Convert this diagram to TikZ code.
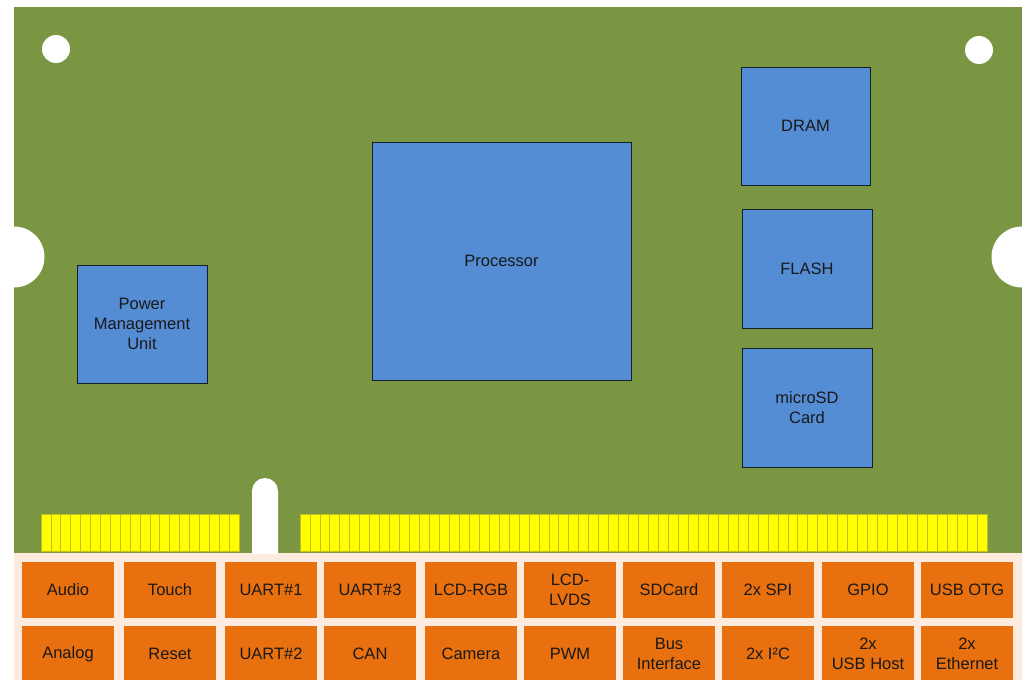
\documentclass[tikz,border=0pt]{standalone}
\usepackage{fontspec}
\setmainfont{Liberation Sans}
\definecolor{board}{RGB}{122,150,66}
\definecolor{chip}{RGB}{85,141,213}
\definecolor{chipline}{RGB}{20,30,40}
\definecolor{peach}{RGB}{253,235,224}
\definecolor{iface}{RGB}{232,112,14}
\definecolor{pin}{RGB}{255,255,0}
\definecolor{pinline}{RGB}{190,190,30}
\tikzset{
  chipbox/.style={draw=chipline, fill=chip, line width=1pt, inner sep=0pt, outer sep=0pt,
    align=center, font=\fontsize{16.5}{20}\selectfont, text=black!90},
  ifbox/.style={fill=iface, inner sep=0pt, outer sep=0pt, minimum width=92pt,
    align=center, font=\fontsize{16.5}{20}\selectfont, text=black!90},
  pinrect/.style={fill=pin, draw=pinline, line width=0.8pt},
  hole/.style={fill=white, draw=none}
}
\begin{document}
\begin{tikzpicture}[x=1pt,y=-1pt]
\useasboundingbox (0,0) rectangle (1026,680);
\fill[white] (0,0) rectangle (1026,680);
% board
\fill[board] (14,7) rectangle (1022,554);
% lower strip
\fill[peach] (14,553) rectangle (1022,680);
% mounting holes
\fill[hole] (56,49) circle (14);
\fill[hole] (979,50) circle (14);
% edge notches
\fill[hole] (14,257) circle (30.5);
\fill[hole] (1022,257) circle (30.5);
% key slot
\fill[hole] (252,554) -- (252,491) arc[start angle=180, end angle=360, radius=13] -- (278,554) -- cycle;
% connector pins
\foreach \i in {0,...,19} {
  \draw[pinrect] ({41+9.9*\i},514) rectangle ({41+9.9*(\i+1)},551);
}
\foreach \i in {0,...,68} {
  \draw[pinrect] ({300+9.957*\i},514) rectangle ({300+9.957*(\i+1)},551);
}
% chips
\node[chipbox, minimum width=259pt, minimum height=238pt] (proc) at (501.5,261) {Processor};
\node[chipbox, minimum width=129pt, minimum height=118pt] (dram) at (805.5,126) {DRAM};
\node[chipbox, minimum width=130pt, minimum height=119pt] (flash) at (807,268.5) {FLASH};
\node[chipbox, minimum width=130pt, minimum height=119pt] (sd) at (807,407.5) {microSD\\Card};
\node[chipbox, minimum width=130pt, minimum height=118pt] (pmu) at (142,324) {Power\\Management\\Unit};
% interface boxes
\foreach \t/\x [count=\k from 0] in {Audio/22,Touch/124,UART\#1/225,UART\#3/324,LCD-RGB/425,{LCD-\\LVDS}/524,SDCard/623,2x SPI/722,GPIO/822,USB OTG/921} {
  \node[ifbox, minimum height=56pt] (top\k) at ({\x+46},590) {\t};
}
\foreach \t/\x [count=\k from 0] in {Analog/22,Reset/124,UART\#2/225,CAN/324,Camera/425,PWM/524,{Bus\\Interface}/623,2x I²C/722,{2x\\USB Host}/822,{2x\\Ethernet}/921} {
  \node[ifbox, minimum height=56pt] (bot\k) at ({\x+46},654) {\t};
}
\end{tikzpicture}
\end{document}
